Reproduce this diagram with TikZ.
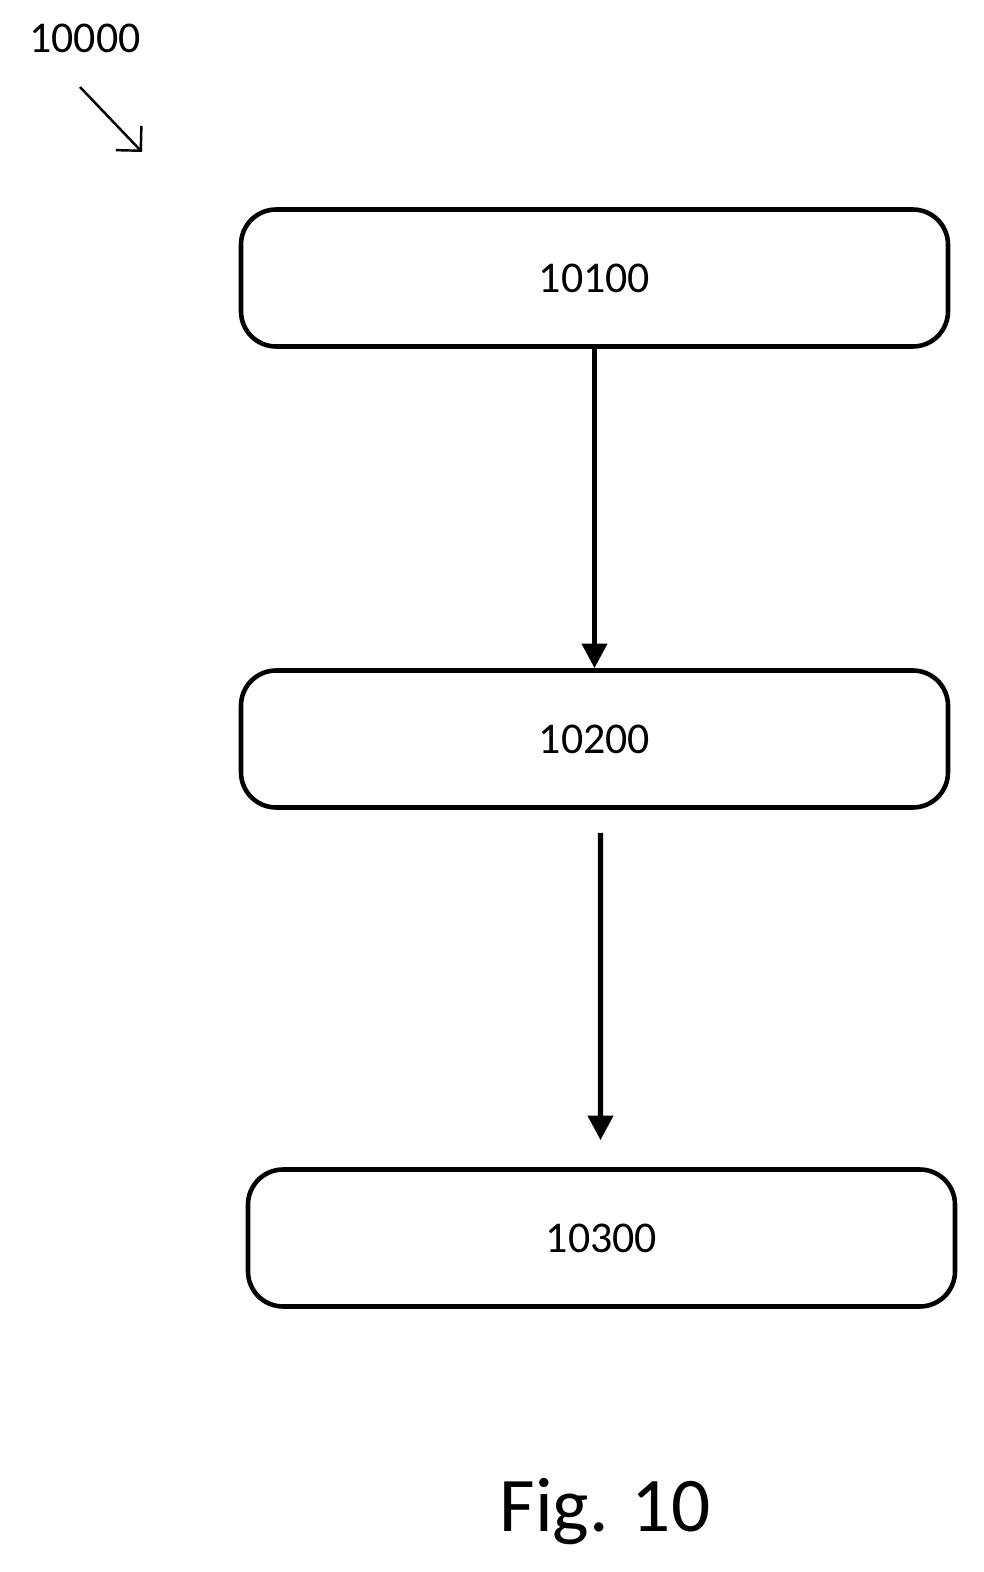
\documentclass[tikz,border=0pt]{standalone}
\usepackage{fontspec}
\setmainfont{Carlito}
\usetikzlibrary{arrows.meta,positioning}
\tikzset{stepbox/.style={draw, line width=1.3pt, rounded corners=10pt, minimum width=7.07cm, minimum height=1.37cm, font=\fontsize{12.5}{14}\selectfont},
flow/.style={-{Triangle[length=7pt,width=7pt]}, line width=1.5pt}}
\begin{document}
\begin{tikzpicture}
\useasboundingbox (0,0) rectangle (9.83,15.72);
\node (lbl) at (0.85,15.34) {\fontsize{12.5}{14}\selectfont 10000};
\coordinate (ptr) at (1.42,14.2);
\draw[-{Straight Barb[length=5pt]}, line width=0.7pt] (0.8,14.85) -- (ptr);
\node[stepbox] (s1) at (5.945,12.94) {10100};
\node[stepbox] (s2) at (5.945,8.33) {10200};
\node[stepbox] (s3) at (6.015,3.34) {10300};
\draw[flow] (s1) -- (s2);
\draw[flow, shorten <=0.23cm, shorten >=0.27cm] ([xshift=0.06cm]s2.south) -- ([xshift=-0.01cm]s3.north);
\node (fig) at (6.05,0.6) {\fontsize{22}{26}\selectfont Fig. 10};
\end{tikzpicture}
\end{document}
